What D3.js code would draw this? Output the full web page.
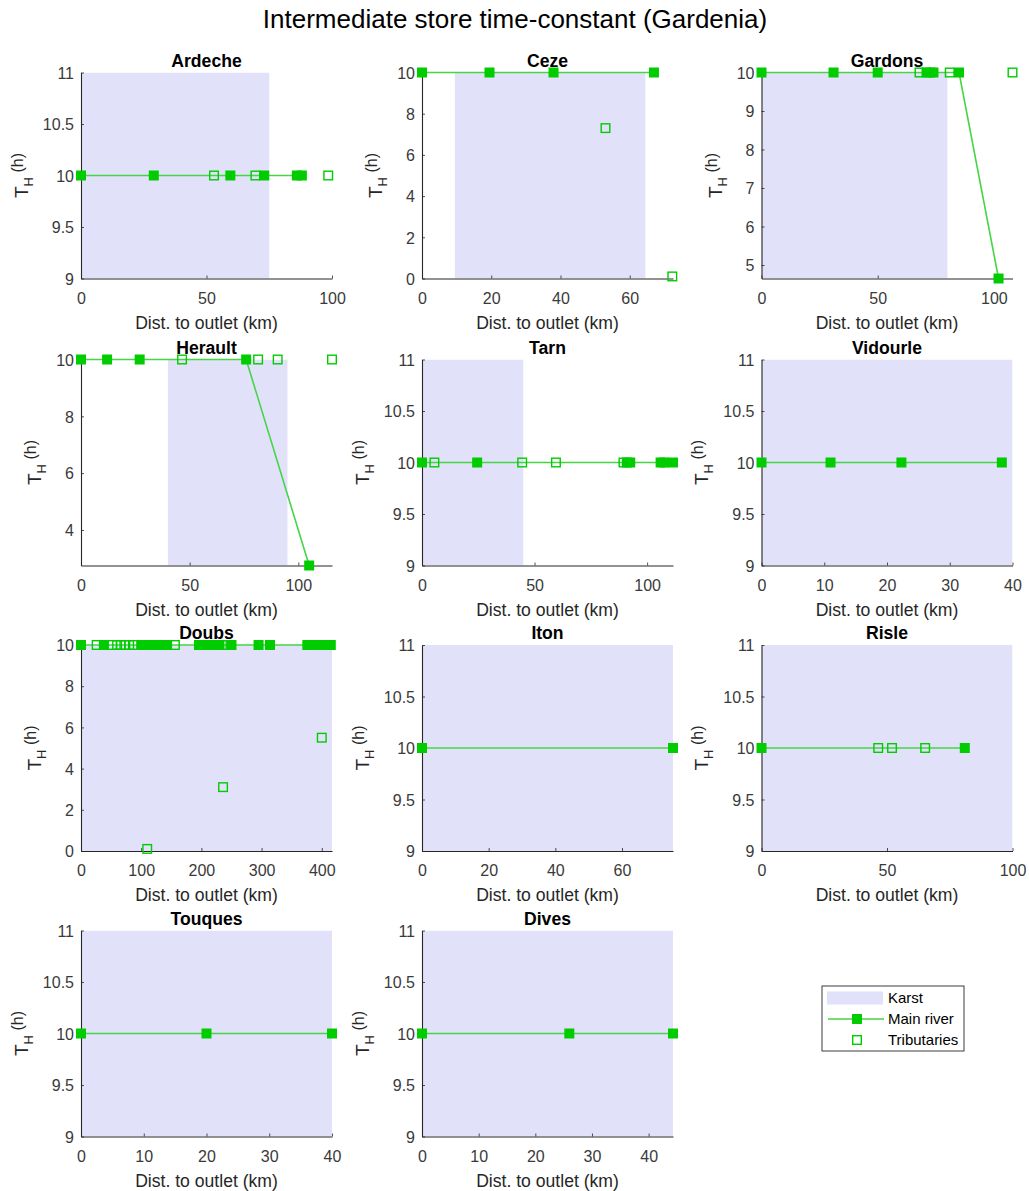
<!DOCTYPE html>
<html><head><meta charset="utf-8">
<script src="https://cdn.jsdelivr.net/npm/d3@7"></script>
<style>
body{margin:0;background:#fff}
text{font-family:"Liberation Sans",Arial,Helvetica,sans-serif}
</style>
</head><body>
<svg id="c" width="1029" height="1191"></svg>
<script>
// ---------- data ----------
const figTitle = "Intermediate store time-constant (Gardenia)";
const basins = ["Ardeche","Ceze","Gardons","Herault","Tarn","Vidourle","Doubs","Iton","Risle","Touques","Dives"];
const xMax = [100, 72.5, 108, 115.5, 111.5, 40, 417, 75.3, 100, 40, 44.3];
const yMin = [9, 0, 4.65, 2.75, 9, 9, 0, 9, 9, 9, 9];
const yMax = [11, 10, 10, 10, 11, 11, 10, 11, 11, 11, 11];
const xTickStep = [50, 20, 50, 50, 50, 10, 100, 20, 50, 10, 10];
const yTickStep = [0.5, 2, 1, 2, 0.5, 0.5, 2, 0.5, 0.5, 0.5, 0.5];
const karstStart = [0, 9.5, 0, 40, 0, 0, 0, 0, 0, 0, 0];
const karstEnd = [75, 64.5, 80, 95, 45, 40, 417, 75.3, 100, 40, 44.3];

const mainDist = [
  [0, 29, 59.5, 73, 86, 88],
  [0, 19.5, 38, 67],
  [0, 31, 50, 71, 72.5, 74, 85, 102],
  [0, 12, 27, 76, 105],
  [0, 24.5, 91, 92.5, 106, 107.5, 111.5],
  [0, 11, 22.3, 38.3],
  [0, 38, 100, 106, 113, 120, 128, 136, 143, 196, 204, 212, 222, 230, 250, 295, 314, 376, 384, 392, 400, 408, 415],
  [0, 75.3],
  [0, 81],
  [0, 20, 40],
  [0, 26, 44.3]
];
const mainTH = [
  [10, 10, 10, 10, 10, 10],
  [10, 10, 10, 10],
  [10, 10, 10, 10, 10, 10, 10, 4.65],
  [10, 10, 10, 10, 2.75],
  [10, 10, 10, 10, 10, 10, 10],
  [10, 10, 10, 10],
  [10, 10, 10, 10, 10, 10, 10, 10, 10, 10, 10, 10, 10, 10, 10, 10, 10, 10, 10, 10, 10, 10, 10],
  [10, 10],
  [10, 10],
  [10, 10, 10],
  [10, 10, 10]
];
const tribDist = [
  [53, 69.5, 98.5],
  [53, 72.3],
  [68, 81, 108],
  [46.5, 81.5, 90.5, 115.5],
  [5.5, 44.5, 59.5, 89.5],
  [],
  [26, 52, 60, 66, 72, 80, 88, 110, 122, 131, 156, 206, 223, 234, 236, 400, 409],
  [],
  [46.5, 52, 65.2],
  [],
  []
];
const tribTH = [
  [10, 10, 10],
  [7.3, 0.1],
  [10, 10, 10],
  [10, 10, 10, 10],
  [10, 10, 10, 10],
  [],
  [10, 10, 10, 10, 10, 10, 10, 0.1, 10, 10, 10, 10, 10, 10, 3.1, 5.5, 10],
  [],
  [10, 10, 10],
  [],
  []
];
const legendLabels = ["Karst", "Main river", "Tributaries"];

// ---------- style / layout ----------
const colLeft = [81, 422, 761.5];
const rowTop = [72.5, 359.5, 645, 930.5];
const W = 251, H = 206;
const karstColor = "#e1e1fa";
const green = "#00cc00";
const lineGreen = "#45d545";
const axisColor = "#262626";

const svg = d3.select("#c");
svg.append("rect").attr("width",1029).attr("height",1191).attr("fill","#fff");

svg.append("text").attr("x", 515).attr("y", 28).attr("text-anchor","middle")
  .attr("font-size", 26).attr("fill","#000").text(figTitle);

const defs = svg.append("defs");

basins.forEach((name, i) => {
  const col = i % 3, row = Math.floor(i / 3);
  const g = svg.append("g").attr("transform", `translate(${colLeft[col]},${rowTop[row]})`);
  const x = d3.scaleLinear().domain([0, xMax[i]]).range([0, W]);
  const y = d3.scaleLinear().domain([yMin[i], yMax[i]]).range([H, 0]);

  defs.append("clipPath").attr("id", "clip"+i).append("rect")
    .attr("x",0).attr("y",0).attr("width",W).attr("height",H);

  // karst
  g.append("rect").attr("clip-path", `url(#clip${i})`)
    .attr("x", x(karstStart[i])).attr("y", 0)
    .attr("width", x(karstEnd[i]) - x(karstStart[i])).attr("height", H)
    .attr("fill", karstColor);

  // ticks
  const xt = d3.range(0, xMax[i] + 1e-9, xTickStep[i]);
  const y0 = Math.ceil(yMin[i] / yTickStep[i] - 1e-9) * yTickStep[i];
  const yt = d3.range(y0, yMax[i] + 1e-9, yTickStep[i]).map(v => +v.toFixed(4));

  const xAxis = d3.axisBottom(x).tickValues(xt).tickSizeInner(-3).tickSizeOuter(0)
    .tickPadding(12).tickFormat(d => String(+d.toFixed(4)));
  const gx = g.append("g").attr("transform", `translate(0,${H})`).call(xAxis);
  const yAxis = d3.axisLeft(y).tickValues(yt).tickSizeInner(-3).tickSizeOuter(0)
    .tickPadding(10).tickFormat(d => String(+d.toFixed(4)));
  const gy = g.append("g").call(yAxis);
  [gx, gy].forEach(a => {
    a.select(".domain").attr("stroke", axisColor).attr("stroke-width", 1.1);
    a.selectAll(".tick line").attr("stroke", axisColor).attr("stroke-width", 0.8);
    a.selectAll(".tick text").attr("font-size", 16).attr("fill", "#3a3a3a")
      .attr("font-family", '"Liberation Sans",Arial,sans-serif');
  });
  gx.selectAll(".tick text").attr("dy", null).attr("y", 25).attr("dominant-baseline", null);
  gy.selectAll(".tick text").attr("x", -7).attr("dy", "0.36em");

  // max tick label width for ylabel placement
  let maxW = 0;
  gy.selectAll(".tick text").each(function(){ maxW = Math.max(maxW, this.getComputedTextLength()); });

  // main river line
  const pts = mainDist[i].map((d, k) => [d, mainTH[i][k]]);
  g.append("path").datum(pts)
    .attr("d", d3.line().x(d => x(d[0])).y(d => y(d[1])))
    .attr("fill","none").attr("stroke", lineGreen).attr("stroke-width", 1.6);

  // main markers
  g.selectAll(".mm").data(pts).enter().append("rect")
    .attr("x", d => x(d[0]) - 5).attr("y", d => y(d[1]) - 5)
    .attr("width", 10).attr("height", 10).attr("fill", green);

  // tributaries
  const tp = tribDist[i].map((d, k) => [d, tribTH[i][k]]);
  g.selectAll(".tm").data(tp).enter().append("rect")
    .attr("x", d => x(d[0]) - 4.3).attr("y", d => y(d[1]) - 4.3)
    .attr("width", 8.6).attr("height", 8.6).attr("fill", "none")
    .attr("stroke", green).attr("stroke-width", 1.4);

  // title
  g.append("text").attr("x", W/2).attr("y", -6).attr("text-anchor","middle")
    .attr("font-size", 17.6).attr("font-weight","bold").attr("fill","#000").text(name);

  // xlabel
  g.append("text").attr("x", W/2).attr("y", H + 50).attr("text-anchor","middle")
    .attr("font-size", 17.6).attr("fill", axisColor).text("Dist. to outlet (km)");

  // ylabel
  const lx = -(7 + maxW + 15);
  const yl = g.append("text").attr("transform", `translate(${lx},${H/2}) rotate(-90)`)
    .attr("text-anchor","middle").attr("fill", axisColor);
  yl.append("tspan").attr("font-size", 19).text("T");
  yl.append("tspan").attr("font-size", 13).attr("dy", 5).text("H");
  yl.append("tspan").attr("font-size", 16).attr("dy", -10).text(" (h)");
});

// ---------- legend ----------
const lg = svg.append("g").attr("transform", "translate(822,986)");
lg.append("rect").attr("x",0).attr("y",0).attr("width",142).attr("height",65)
  .attr("fill","#fff").attr("stroke", axisColor).attr("stroke-width", 0.9);
const rowsY = [12, 33, 54];
lg.append("rect").attr("x",5).attr("y",rowsY[0]-6.5).attr("width",56).attr("height",13).attr("fill", karstColor);
lg.append("line").attr("x1",6).attr("x2",62).attr("y1",rowsY[1]).attr("y2",rowsY[1])
  .attr("stroke", lineGreen).attr("stroke-width",1.6);
lg.append("rect").attr("x",35-5).attr("y",rowsY[1]-5).attr("width",10).attr("height",10).attr("fill",green);
lg.append("rect").attr("x",35-4.3).attr("y",rowsY[2]-4.3).attr("width",8.6).attr("height",8.6)
  .attr("fill","none").attr("stroke",green).attr("stroke-width",1.4);
legendLabels.forEach((t, k) => {
  lg.append("text").attr("x", 66).attr("y", rowsY[k]).attr("dy","0.36em")
    .attr("font-size", 15).attr("fill","#000").text(t);
});
</script>
</body></html>
